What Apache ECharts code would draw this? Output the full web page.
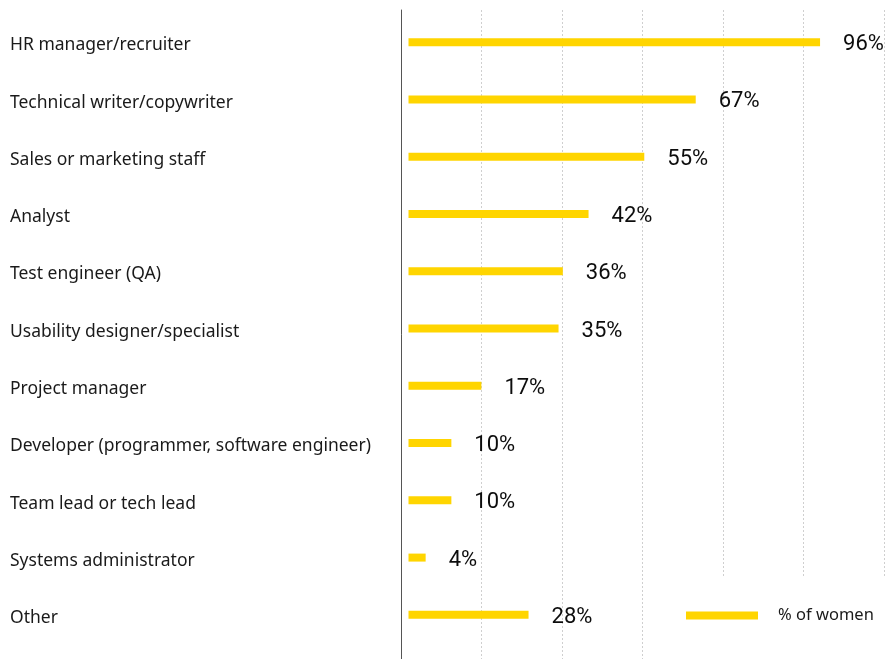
<!DOCTYPE html>
<html>
<head>
<meta charset="utf-8">
<script src="https://cdn.jsdelivr.net/npm/echarts@6/dist/echarts.min.js"></script>
<style>
  html, body { margin: 0; padding: 0; background: #fff; }
  #chart { width: 894px; height: 659px; }
</style>
</head>
<body>
<div id="chart"></div>
<script>
// Job roles, top to bottom
const roles = [
  'HR manager/recruiter',
  'Technical writer/copywriter',
  'Sales or marketing staff',
  'Analyst',
  'Test engineer (QA)',
  'Usability designer/specialist',
  'Project manager',
  'Developer (programmer, software engineer)',
  'Team lead or tech lead',
  'Systems administrator',
  'Other'
];

// Share of women in each role, %
const womenShare = [96, 67, 55, 42, 36, 35, 17, 10, 10, 4, 28];

const seriesName = '% of women';
const barColor = '#FFD500';

const chart = echarts.init(document.getElementById('chart'), null, { renderer: 'canvas' });

chart.setOption({
  animation: false,
  backgroundColor: '#ffffff',
  grid: [
    // background frame: vertical rule and dotted guide lines
    { left: 401, right: 10, top: 10, bottom: 0 },
    // plotting area for the bars
    { left: 408.5, top: 13.5, height: 630, width: 428.7 }
  ],
  xAxis: [
    {
      gridIndex: 0, type: 'value', min: 0, max: 6, interval: 1,
      axisLine: { show: false }, axisTick: { show: false }, axisLabel: { show: false },
      splitLine: { show: true, lineStyle: { color: '#cfcfcf', width: 1, type: [2, 2] } }
    },
    {
      gridIndex: 1, type: 'value', min: 0, max: 100,
      axisLine: { show: false }, axisTick: { show: false }, axisLabel: { show: false },
      splitLine: { show: false }
    }
  ],
  yAxis: [
    {
      gridIndex: 0, type: 'value', min: 0, max: 1,
      axisLine: { show: true, lineStyle: { color: '#555555', width: 1 } },
      axisTick: { show: false }, axisLabel: { show: false }, splitLine: { show: false }
    },
    {
      gridIndex: 1, type: 'category', data: roles, inverse: true,
      axisLine: { show: false }, axisTick: { show: false }, splitLine: { show: false },
      axisLabel: {
        margin: 398.5, align: 'left',
        verticalAlign: 'top', lineHeight: 6.5,
        fontFamily: 'Noto Sans', fontSize: 17.5, color: '#1a1a1a'
      }
    }
  ],
  legend: {
    data: [seriesName],
    left: 646, top: 577,
    padding: [30, 20, 60, 40],
    backgroundColor: '#ffffff',
    icon: 'rect', itemWidth: 72, itemHeight: 8, itemGap: 10,
    textStyle: { fontFamily: 'Noto Sans', fontSize: 16.5, color: '#1a1a1a', padding: [6, 0, 0, 15] }
  },
  series: [
    {
      name: seriesName,
      type: 'bar',
      xAxisIndex: 1, yAxisIndex: 1,
      data: womenShare,
      barWidth: 8,
      itemStyle: { color: barColor },
      label: {
        show: true, position: 'right', distance: 23, offset: [0, 2.5],
        formatter: '{c}%',
        fontFamily: 'Roboto', fontSize: 22, color: '#0d0d0d'
      }
    }
  ]
});
</script>
</body>
</html>
